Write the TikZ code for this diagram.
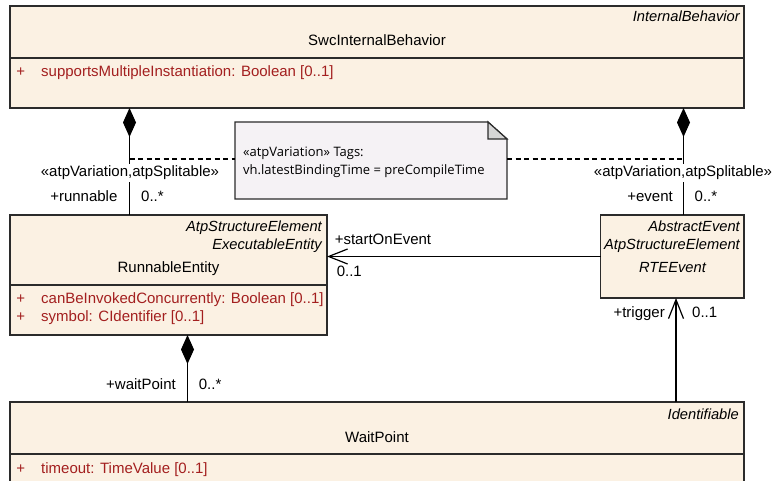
\documentclass[tikz,border=0pt]{standalone}
\usepackage{fontspec}
\setmainfont{Liberation Sans}
\newfontfamily\notefont{Open Sans}
\usetikzlibrary{arrows.meta}
\definecolor{boxfill}{HTML}{FBF1E3}
\definecolor{attrred}{HTML}{A31F1F}
\definecolor{notefill}{HTML}{F5F2F5}
\definecolor{foldgray}{HTML}{D6D6D6}
\definecolor{edgecol}{HTML}{2B2B2B}
\begin{document}
\begin{tikzpicture}[x=1pt,y=-1pt,
  umlbox/.style={draw=edgecol,line width=1.4pt,fill=boxfill,anchor=north west,inner sep=0,outer sep=0},
  divider/.style={draw=edgecol,line width=1.4pt},
  txt/.style={inner sep=0,yshift=-1.5pt,font=\fontsize{15}{17}\selectfont},
  title/.style={txt,anchor=mid},
  stereo/.style={inner sep=0,yshift=-1.5pt,font=\fontsize{14.7}{17}\selectfont\itshape,anchor=mid east},
  attrtxt/.style={txt,text=attrred,anchor=mid west},
  plus/.style={txt,text=attrred,anchor=mid},
  lblr/.style={txt,anchor=mid east},
  lbll/.style={txt,anchor=mid west},
  masklbl/.style={txt,anchor=mid,fill=white,inner xsep=0pt,inner ysep=2pt},
  notetxt/.style={inner sep=0,yshift=-1pt,font=\notefont\fontsize{13}{15}\selectfont,anchor=mid west},
  conn/.style={line width=1.2pt,draw=black},
  comp/.style={conn,{Diamond[length=29pt,width=13pt,fill=black]}-},
  nav/.style={conn,-{Straight Barb[length=19pt,width=15pt,line width=1.2pt]}},
  dashline/.style={line width=1.2pt,dash pattern=on 5pt off 3.5pt}]
\useasboundingbox (0,0) rectangle (775,481);

% boxes
\node[umlbox,minimum width=734pt,minimum height=102pt] (swc) at (10,6) {};
\draw[divider] ([yshift=-52pt]swc.north west) -- ([yshift=-52pt]swc.north east);
\node[umlbox,minimum width=317pt,minimum height=120pt] (run) at (10,215) {};
\draw[divider] ([yshift=-70pt]run.north west) -- ([yshift=-70pt]run.north east);
\node[umlbox,minimum width=143.5pt,minimum height=83pt] (rte) at (600.5,215) {};
\node[umlbox,minimum width=734pt,minimum height=100pt] (wait) at (10,402) {};
\draw[divider] ([yshift=-52pt]wait.north west) -- ([yshift=-52pt]wait.north east);

% note
\node[inner sep=0,outer sep=0,anchor=north west,minimum width=272pt,minimum height=77pt] (note) at (235,122) {};
\draw[edgecol,line width=1.2pt,fill=notefill] (note.north west) -- ([xshift=-19pt]note.north east) -- ([yshift=-17pt]note.north east) -- (note.south east) -- (note.south west) -- cycle;
\draw[edgecol,line width=1.2pt,fill=foldgray] ([xshift=-19pt]note.north east) -- ([xshift=-19pt,yshift=-17pt]note.north east) -- ([yshift=-17pt]note.north east) -- cycle;
\node[notetxt] (n1) at (243,153) {«atpVariation» Tags:};
\node[notetxt] (n2) at (243,171) {vh.latestBindingTime = preCompileTime};

% texts in SwcInternalBehavior
\node[stereo] (s1) at (740,17.3) {InternalBehavior};
\node[title] (t1) at (377,41.7) {SwcInternalBehavior};
\node[plus] (p1) at (20.8,72.7) {+};
\node[attrtxt] (a1) at (41,72.7) {supportsMultipleInstantiation: Boolean [0..1]};

% RunnableEntity
\node[stereo] (s2) at (322,227.3) {AtpStructureElement};
\node[stereo] (s3) at (322,245.3) {ExecutableEntity};
\node[title] (t2) at (168.5,268.3) {RunnableEntity};
\node[plus] (p2) at (20.8,299.3) {+};
\node[attrtxt] (a2) at (41,299.3) {canBeInvokedConcurrently: Boolean [0..1]};
\node[plus] (p3) at (20.8,317.3) {+};
\node[attrtxt] (a3) at (41,317.3) {symbol: CIdentifier [0..1]};

% RTEEvent
\node[stereo] (s4) at (740,227.3) {AbstractEvent};
\node[stereo] (s5) at (740,245.3) {AtpStructureElement};
\node[stereo,anchor=mid] (t3) at (672.5,268.3) {RTEEvent};

% WaitPoint
\node[stereo] (s6) at (739,415.3) {Identifiable};
\node[title] (t4) at (377,438.3) {WaitPoint};
\node[plus] (p4) at (20.8,469.3) {+};
\node[attrtxt] (a4) at (41,469.3) {timeout: TimeValue [0..1]};

% connectors
\coordinate (lx) at (129.5,0);
\coordinate (rx) at (683.5,0);
\coordinate (wx) at (187.5,0);
\coordinate (tx) at (676,0);
\draw[comp] (swc.south -| lx) -- (run.north -| lx);
\draw[comp] (swc.south -| rx) -- (rte.north -| rx);
\draw[comp] (run.south -| wx) -- (wait.north -| wx);
\draw[nav] (rte.west) -- (run.east |- rte.west);
\draw[nav] (wait.north -| tx) -- (rte.south -| tx);

\coordinate (dl) at (129.5,159);
\coordinate (dr) at (683.5,159);
\draw[dashline] (dl) -- (note.west |- dl);
\draw[dashline] (note.east |- dr) -- (dr);

% connector labels
\node[masklbl] (st1) at (130,172.7) {«atpVariation,atpSplitable»};
\node[masklbl] (st2) at (683,172.7) {«atpVariation,atpSplitable»};
\node[lblr] (r1) at (117.6,197.7) {+runnable};
\node[lbll] (m1) at (141,197.7) {0..*};
\node[lblr] (r2) at (673,197.7) {+event};
\node[lbll] (m2) at (694.5,197.7) {0..*};
\node[lbll] (r3) at (334.6,240.3) {+startOnEvent};
\node[lbll] (m3) at (336.6,272.7) {0..1};
\node[lblr] (r4) at (665,313.3) {+trigger};
\node[lbll] (m4) at (692,313.3) {0..1};
\node[lblr] (r5) at (176,385) {+waitPoint};
\node[lbll] (m5) at (198.7,385) {0..*};
\end{tikzpicture}
\end{document}
